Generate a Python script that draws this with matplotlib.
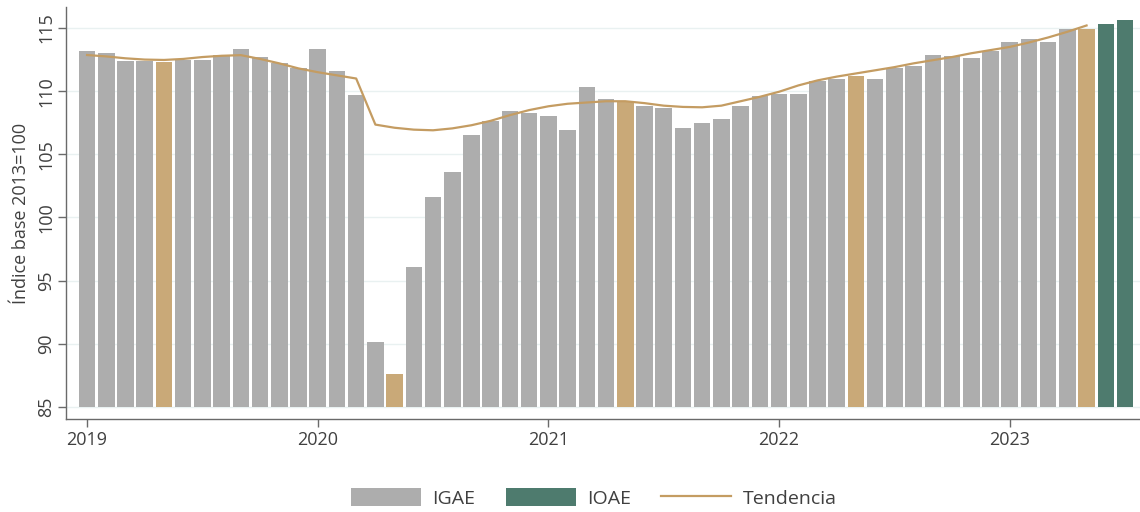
"""Monthly IGAE index with IOAE nowcast and trend, 2019-2023."""

import matplotlib

matplotlib.use("agg")
from matplotlib.lines import Line2D
from matplotlib.patches import Patch
import matplotlib.pyplot as plt
import numpy as np
import pandas as pd

# Months shown on the x axis (Jan 2019 .. Jul 2023)
months = pd.date_range("2019-01-01", "2023-07-01", freq="MS")

# IGAE, Jan 2019 .. May 2023
igae = [
    113.2, 113.0, 112.4, 112.4, 112.3, 112.5, 112.5, 112.9, 113.3, 112.7, 112.2, 111.8,
    113.3, 111.6, 109.7, 90.1, 87.6, 96.1, 101.6, 103.6, 106.5, 107.6, 108.4, 108.3,
    108.0, 106.9, 110.3, 109.4, 109.2, 108.8, 108.7, 107.1, 107.5, 107.8, 108.8, 109.6,
    109.8, 109.8, 110.8, 111.0, 111.2, 111.0, 111.8, 112.0, 112.9, 112.8, 112.6, 113.2,
    113.9, 114.1, 113.9, 114.9, 114.9,
]
# IOAE nowcast, Jun 2023 .. Jul 2023
ioae = [115.3, 115.6]
# Trend, Jan 2019 .. May 2023
tendencia = [
    112.86, 112.75, 112.6, 112.5, 112.47, 112.55, 112.7, 112.8, 112.85, 112.55, 112.2, 111.8,
    111.5, 111.25, 111.0, 107.35, 107.1, 106.95, 106.9, 107.05, 107.3, 107.65, 108.1, 108.5,
    108.8, 109.0, 109.1, 109.2, 109.2, 109.05, 108.85, 108.75, 108.72, 108.85, 109.2, 109.55,
    109.95, 110.45, 110.85, 111.15, 111.4, 111.65, 111.9, 112.2, 112.45, 112.7, 113.0, 113.25,
    113.5, 113.85, 114.25, 114.7, 115.2,
]
highlight_month = 5  # May of each year is drawn in tan
year_ticks = [2019, 2020, 2021, 2022, 2023]

GRAY = "#adadad"
TAN = "#c9a978"
GREEN = "#4e7b6e"
LINE = "#c49c62"
TEXT = "#404040"
BASE = 85.0

plt.rcParams["font.family"] = ["Open Sans", "DejaVu Sans"]

fig = plt.figure(figsize=(11.4, 5.12), dpi=100)
ax = fig.add_axes([0.058, 0.182, 0.942, 0.804])

x = np.arange(len(months))
n_igae = len(igae)
igae_colors = [TAN if m.month == highlight_month else GRAY for m in months[:n_igae]]

ax.bar(x[:n_igae], np.array(igae) - BASE, bottom=BASE, width=0.86,
       color=igae_colors, zorder=2)
ax.bar(x[n_igae:], np.array(ioae) - BASE, bottom=BASE, width=0.86,
       color=GREEN, zorder=2)
ax.plot(x[:len(tendencia)], tendencia, color=LINE, linewidth=1.6, zorder=3)

ax.set_ylim(84.05, 116.65)
ax.set_xlim(-1.09, len(months) - 0.22)
ax.set_yticks([85, 90, 95, 100, 105, 110, 115])
ax.set_yticklabels([85, 90, 95, 100, 105, 110, 115], rotation=90, va="center")
tick_pos = [list(months.year).index(y) for y in year_ticks]
ax.set_xticks(tick_pos)
ax.set_xticklabels([str(y) for y in year_ticks])
ax.set_ylabel("Índice base 2013=100", fontsize=13, color=TEXT, labelpad=5)

ax.grid(axis="y", color="#e9f1f1", linewidth=1.0, zorder=0)
for side in ("top", "right"):
    ax.spines[side].set_visible(False)
for side in ("left", "bottom"):
    ax.spines[side].set_color("#6a6a6a")
    ax.spines[side].set_linewidth(1.0)
ax.tick_params(axis="both", colors="#6a6a6a", labelcolor=TEXT, labelsize=13,
               length=6, width=1.0)
ax.tick_params(axis="x", pad=3)
ax.tick_params(axis="y", pad=2)

handles = [
    Patch(facecolor=GRAY, label="IGAE"),
    Patch(facecolor=GREEN, label="IOAE"),
    Line2D([], [], color=LINE, linewidth=1.6, label="Tendencia"),
]
fig.legend(handles=handles, loc="center", bbox_to_anchor=(0.521, 0.027), ncol=3,
           frameon=False, fontsize=14, handlelength=3.6, handleheight=1.0,
           columnspacing=1.55, handletextpad=0.6, labelcolor=TEXT)

fig.savefig("out.png", dpi=100)
plt.close(fig)
